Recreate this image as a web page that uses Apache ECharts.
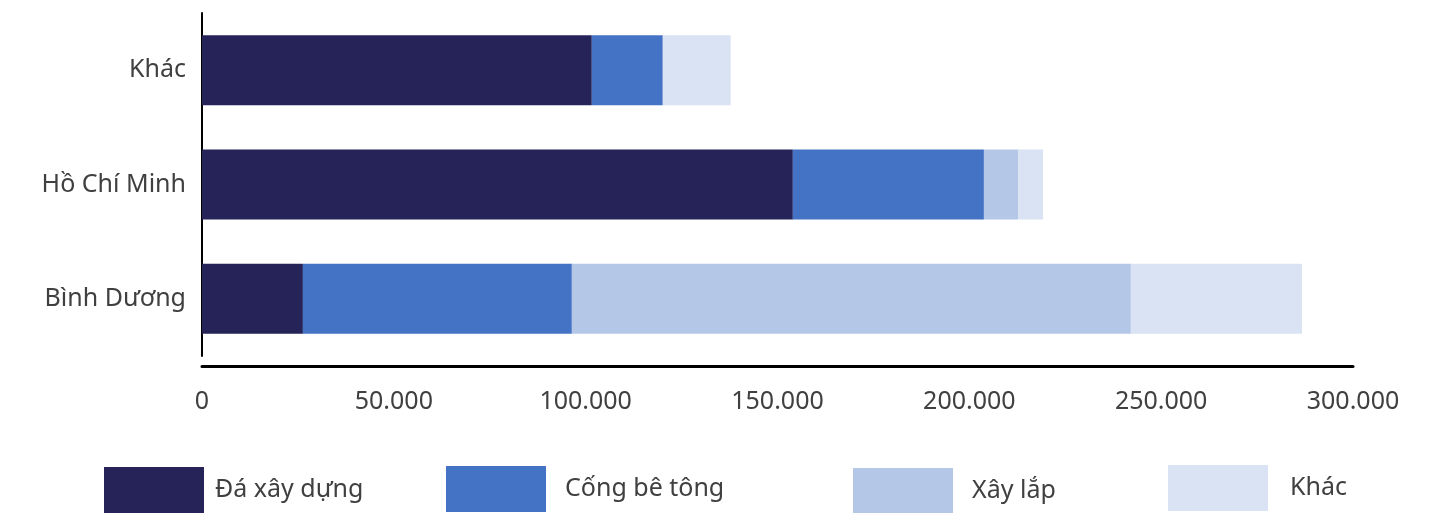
<!DOCTYPE html>
<html><head><meta charset="utf-8">
<script src="https://cdn.jsdelivr.net/npm/echarts@6/dist/echarts.min.js"></script>
<style>html,body{margin:0;padding:0;background:#fff}#c{width:1433px;height:513px}</style>
</head><body><div id="c"></div>
<script>
const categories = ['Bình Dương', 'Hồ Chí Minh', 'Khác'];
const seriesNames = ['Đá xây dựng', 'Cống bê tông', 'Xây lắp', 'Khác'];
const daXayDung = [26300, 154000, 101600];
const congBeTong = [70100, 49800, 18500];
const xayLap = [145700, 8900, 0];
const khac = [44600, 6500, 17700];
const xTicks = [0, 50000, 100000, 150000, 200000, 250000, 300000];
const colors = ['#252358', '#4472C4', '#B4C7E7', '#DAE3F3'];

const values = [daXayDung, congBeTong, xayLap, khac];
const font = '"Noto Sans", sans-serif';
const legendLefts = [104, 446, 853, 1168];
const legendTops = [467, 466, 468, 465];
const textPads = [[4, 0, 0, 6], [0, 0, 0, 14], [6, 0, 0, 14], [10, 0, 0, 17]];
const chart = echarts.init(document.getElementById('c'));
chart.setOption({
  animation: false,
  grid: { left: 202, right: 80, top: 13, bottom: 157, containLabel: false },
  xAxis: {
    type: 'value', min: 0, max: 300000, interval: 50000, offset: 10,
    axisLine: { show: true, lineStyle: { color: '#000', width: 3 } },
    axisTick: { show: false }, splitLine: { show: false },
    axisLabel: {
      margin: 23, color: '#404040', fontFamily: font, fontSize: 25,
      formatter: v => xTicks.includes(v) ? (v === 0 ? '0' : v.toLocaleString('de-DE')) : ''
    }
  },
  yAxis: {
    type: 'category', data: categories,
    axisLine: { show: true, lineStyle: { color: '#000', width: 2 } },
    axisTick: { show: false },
    axisLabel: { margin: 16, color: '#404040', fontFamily: font, fontSize: 25 }
  },
  legend: seriesNames.map((n, i) => ({
    data: [n], left: legendLefts[i], top: legendTops[i], padding: 0,
    itemWidth: 100, itemHeight: 46, icon: 'rect',
    textStyle: { color: '#404040', fontFamily: font, fontSize: 25, padding: textPads[i] }
  })),
  series: seriesNames.map((n, i) => ({
    name: n, type: 'bar', stack: 'total', barWidth: 70,
    itemStyle: { color: colors[i] },
    data: values[i]
  }))
});
</script></body></html>
